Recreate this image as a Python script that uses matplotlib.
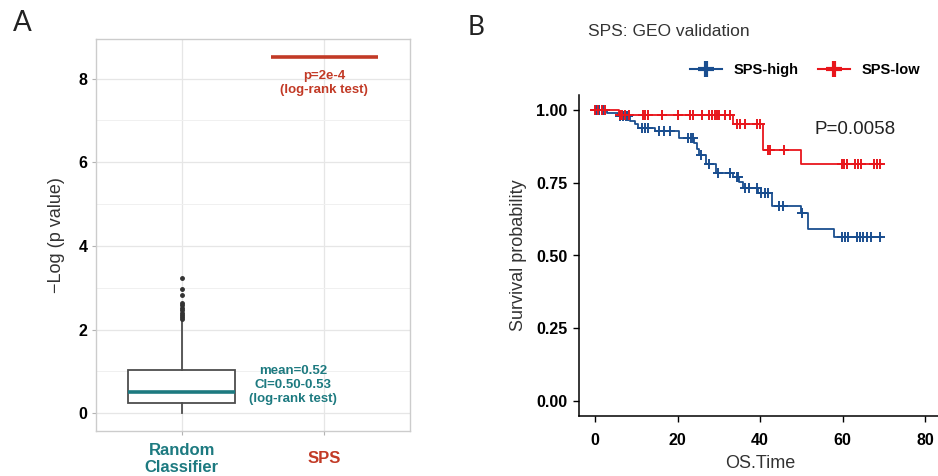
import numpy as np
import matplotlib.pyplot as plt
from matplotlib.lines import Line2D

plt.rcParams['font.family'] = ['Liberation Sans', 'DejaVu Sans']

#========================================================
# panel A data: -log(p) of random classifiers vs SPS
categories = ['Random\nClassifier', 'SPS']
rc_q1 = 0.24
rc_median = 0.51
rc_q3 = 1.04
rc_whislo = 0.0
rc_whishi = 2.23
rc_outliers = [3.22, 2.98, 2.82, 2.64, 2.58, 2.52, 2.47, 2.40, 2.35, 2.29, 2.24]
sps_value = 8.52

# panel B data: Kaplan-Meier steps, GEO validation
high_times = [0, 2.8, 5.5, 8.5, 9.7, 10.3, 14.5, 20.3, 23.9, 24.6, 25.3, 26.9,
              29.3, 33.5, 35.0, 35.8, 39.6, 42.8, 49.9, 51.5, 58.0]
high_surv = [1.0, 0.988, 0.977, 0.962, 0.949, 0.936, 0.927, 0.902, 0.887, 0.866,
             0.843, 0.813, 0.782, 0.770, 0.752, 0.733, 0.714, 0.668, 0.645, 0.590, 0.562]
high_end = 69.5
high_censor = [0.3, 1.0, 2.0, 6.1, 6.8, 7.4, 7.9, 11.3, 12.1, 12.9, 15.4, 16.6, 18.2,
               22.6, 23.2, 23.8, 25.6, 27.5, 29.9, 32.7, 34.3, 34.7, 36.4, 37.2, 39.2,
               40.2, 41.2, 42.0, 44.7, 45.5, 50.2, 59.9, 60.6, 61.4, 63.4, 64.2, 65.0,
               66.0, 66.8, 69.1]

low_times = [0, 5.8, 33.5, 40.7, 49.9]
low_surv = [1.0, 0.982, 0.950, 0.863, 0.813]
low_end = 69.6
low_censor = [0.0, 0.6, 1.6, 2.3, 6.1, 6.6, 7.3, 8.1, 11.5, 12.1, 12.9, 16.3, 20.2,
              23.0, 23.8, 25.9, 27.7, 28.3, 29.1, 29.6, 30.1, 31.5, 32.6, 34.5, 35.2,
              36.4, 39.3, 40.0, 42.0, 42.4, 45.9, 59.8, 60.4, 61.0, 63.0, 63.8, 64.4,
              67.7, 68.4, 69.1]
#========================================================

teal = '#1d7a80'
dred = '#c23a26'
blue = '#1a4e8f'
red = '#e8161c'

fig = plt.figure(figsize=(9.38, 4.76), dpi=100)

# ---------------- panel A
ax = fig.add_axes([96/938, 45/476, 314/938, 392/476])
ax.set_facecolor('white')
stats = [dict(med=rc_median, q1=rc_q1, q3=rc_q3, whislo=rc_whislo,
              whishi=rc_whishi, fliers=rc_outliers)]
ax.bxp(stats, positions=[1], widths=0.75, showcaps=False, patch_artist=True,
       boxprops=dict(facecolor='white', edgecolor='#4d4d4d', lw=1.3),
       whiskerprops=dict(color='#4d4d4d', lw=1.3),
       medianprops=dict(color=teal, lw=2.6),
       flierprops=dict(marker='o', markersize=2.5, markerfacecolor='#333333',
                       markeredgecolor='#333333'), zorder=3)
ax.hlines(sps_value, 2 - 0.375, 2 + 0.375, color=dred, lw=2.6, zorder=3)

ax.text(2, 7.9, 'p=2e-4\n(log-rank test)', color=dred, fontsize=9.5,
        fontweight='bold', ha='center', va='center', linespacing=1.25)
ax.text(1.78, 0.67, 'mean=0.52\nCI=0.50-0.53\n(log-rank test)', color=teal,
        fontsize=9.5, fontweight='bold', ha='center', va='center', linespacing=1.2)

ax.set_xlim(0.4, 2.6)
ax.set_ylim(-0.426, 8.946)
ax.set_yticks([0, 2, 4, 6, 8])
ax.set_yticks([1, 3, 5, 7], minor=True)
ax.set_xticks([1, 2])
ax.set_xticklabels(categories, fontsize=12, fontweight='bold', linespacing=1.15)
for lab, c in zip(ax.get_xticklabels(), [teal, dred]):
    lab.set_color(c)
    lab.set_verticalalignment('center')
ax.tick_params(axis='x', length=3, color='#b3b3b3', pad=17)
ax.tick_params(axis='y', length=3, color='#b3b3b3', labelsize=11.5, pad=3)
for lab in ax.get_yticklabels():
    lab.set_fontweight('bold')
ax.tick_params(axis='y', which='minor', length=0)
ax.grid(True, which='major', color='#e6e6e6', lw=0.9, zorder=0)
ax.grid(True, which='minor', axis='y', color='#f0f0f0', lw=0.7, zorder=0)
ax.set_axisbelow(True)
for s in ax.spines.values():
    s.set_color('#cccccc')
    s.set_linewidth(1.0)
ax.set_ylabel('\u2212Log (p value)', fontsize=13, color='#333333', labelpad=10)

# ---------------- panel B
bx = fig.add_axes([578.7/938, 60/476, 362.8/938, 321/476])


def km_draw(times, surv, end, censor, color):
    t = list(times) + [end]
    s = list(surv) + [surv[-1]]
    bx.step(t, s, where='post', color=color, lw=1.3, zorder=3)
    idx = np.searchsorted(times, censor, side='right') - 1
    cy = np.array(surv)[idx]
    bx.plot(censor, cy, ls='none', marker='+', markersize=6.5, mew=1.4,
            color=color, zorder=4)


km_draw(high_times, high_surv, high_end, high_censor, blue)
km_draw(low_times, low_surv, low_end, low_censor, red)

bx.set_xlim(-4, 84)
bx.set_ylim(-0.05, 1.05)
bx.set_xticks([0, 20, 40, 60, 80])
bx.set_yticks([0, 0.25, 0.5, 0.75, 1.0])
bx.set_yticklabels(['0.00', '0.25', '0.50', '0.75', '1.00'])
bx.tick_params(length=4, width=1, color='black', labelsize=11.5, labelcolor='black')
bx.tick_params(axis='x', pad=8)
bx.tick_params(axis='y', pad=4)
for lab in bx.get_xticklabels() + bx.get_yticklabels():
    lab.set_fontweight('bold')
bx.spines['top'].set_visible(False)
bx.spines['right'].set_visible(False)
for s in ['left', 'bottom']:
    bx.spines[s].set_linewidth(1.1)
    bx.spines[s].set_color('black')
bx.set_xlabel('OS.Time', fontsize=13, color='#333333', labelpad=5)
bx.set_ylabel('Survival probability', fontsize=13, color='#333333', labelpad=7)
bx.text(53.1, 0.932, 'P=0.0058', fontsize=13.5, color='#222222', ha='left', va='center')

handles = [Line2D([], [], color=blue, lw=1.5, marker='+', markersize=12, mew=3),
           Line2D([], [], color=red, lw=1.5, marker='+', markersize=12, mew=3)]
fig.legend(handles, ['SPS-high', 'SPS-low'], loc='center',
           bbox_to_anchor=(805/938, 1 - 70/476), ncol=2, frameon=False,
           prop=dict(weight='bold', size=10.5), handlelength=2.2,
           handletextpad=0.8, columnspacing=1.3)

fig.text(588/938, 1 - 31/476, 'SPS: GEO validation', fontsize=12.5,
         color='#333333', ha='left', va='center')
fig.text(22/938, 1 - 23/476, 'A', fontsize=20, color='#222222', ha='center',
         va='center', family='Lato')
fig.text(476/938, 1 - 27.5/476, 'B', fontsize=19, color='#222222', ha='center',
         va='center', family='Lato')

fig.savefig('out.png', dpi=100)
